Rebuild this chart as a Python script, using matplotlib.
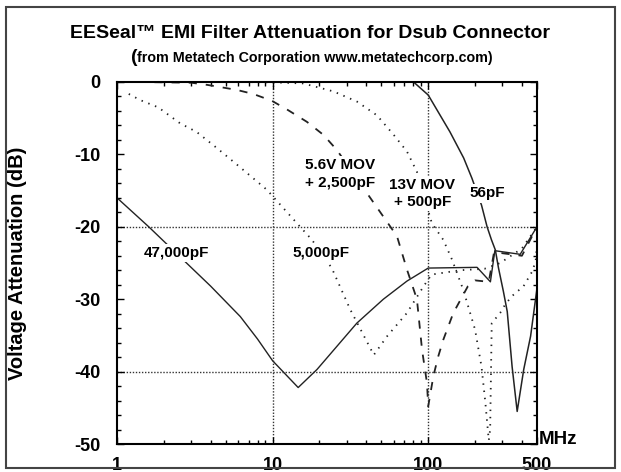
import numpy as np
import matplotlib.pyplot as plt
from matplotlib.patches import Rectangle
from matplotlib.ticker import FixedLocator, NullFormatter

plt.rcParams['font.family'] = ['Liberation Sans', 'DejaVu Sans']
plt.rcParams['font.weight'] = 'bold'

# 47,000pF (solid)
f_47000 = [1, 1.6, 2, 4, 6.2, 8, 10, 14.6, 19.3, 34.8, 51.5, 73, 100, 206, 251, 268, 390, 500]
a_47000 = [-16, -20, -22, -28.2, -32.4, -35.5, -38.5, -42.2, -39.7, -33.3, -30, -27.5, -25.7,
           -25.6, -27.6, -23.3, -23.8, -20]

# 5,000pF (dotted)
f_5000 = [1.19, 1.41, 1.84, 2.54, 3.25, 4.37, 5.74, 7.9, 9.2, 14.6, 17.9, 24, 31.5, 44.7,
          54.5, 73, 93.5, 105, 160, 230, 290, 400, 500]
a_5000 = [-1.65, -2.5, -3.5, -5.7, -6.9, -9.1, -11.2, -13.7, -14.9, -19.7, -21.8, -25.7, -31.4,
          -37.7, -35.1, -31.9, -28.2, -26.6, -26.0, -25.8, -25.0, -23.0, -20]

# 5.6V MOV + 2,500pF (dashed)
f_mov56 = [1.35, 3.0, 3.8, 4.6, 5.9, 7.5, 9.9, 12.6, 16.6, 21.2, 25.9, 51.5, 63, 73, 84.6,
           91.3, 98.2, 100, 108, 116, 125, 145, 180, 200, 245, 265, 400, 500]
a_mov56 = [0, -0.1, -0.4, -0.7, -1.1, -1.65, -2.6, -3.9, -5.5, -7.3, -9.4, -18.6, -21.3, -25.9,
           -30, -37, -41.6, -44.8, -40.6, -37.9, -35.6, -31.9, -28.2, -27.4, -27.6, -23.5, -24, -20]

# 13V MOV + 500pF (dotted)
f_mov13 = [5.9, 10, 15.7, 24.6, 34.8, 46.8, 60, 73, 84.6, 105.5, 125, 142, 168, 200, 220, 233,
           245, 250, 256, 290, 311, 344, 410, 465, 490, 500]
a_mov13 = [0, -0.05, -0.2, -1.3, -2.7, -4.6, -7.3, -9.6, -12.4, -19.5, -21.8, -24.5, -28.7,
           -34.2, -39.3, -44.3, -49.5, -48, -33.3, -31.9, -30.8, -29.6, -28.2, -26.2, -24.8, -22.5]

# 56pF (solid)
f_56 = [80.5, 100, 138, 169, 191, 220, 239, 255, 270, 283, 304, 322, 346, 373, 411, 455, 500]
a_56 = [0, -1.8, -6.9, -10.5, -13.3, -17, -20, -21.8, -23.2, -25.7, -28.9, -31.7, -39.3,
        -45.5, -39.7, -35.1, -28.5]

x_ticks = [1, 10, 100, 500]
x_labels = ['1', '10', '100', '500']
y_ticks = [0, -10, -20, -30, -40, -50]
y_labels = ['0', '-10', '-20', '-30', '-40', '-50']

fig = plt.figure(figsize=(6.21, 4.72), dpi=100)
ax = fig.add_axes([0.1884, 0.0593, 0.6763, 0.767])

ax.plot(f_47000, a_47000, color='#222222', lw=1.0)
ax.plot(f_5000, a_5000, color='#222222', lw=1.3, ls=(0, (0.8, 3.2)))
ax.plot(f_mov56, a_mov56, color='#222222', lw=1.3, ls=(0, (4.5, 5)))
ax.plot(f_mov13, a_mov13, color='#222222', lw=1.3, ls=(0, (0.8, 3.2)))
ax.plot(f_56, a_56, color='#222222', lw=1.1)

for gx in [10, 100]:
    ax.axvline(gx, color='#333333', lw=1.0, ls=(0, (1, 1.2)), zorder=1)
for gy in [-20, -40]:
    ax.axhline(gy, color='#333333', lw=1.0, ls=(0, (1, 1.2)), zorder=1)

ax.set_xscale('log')
ax.set_xlim(1, 500)
ax.set_ylim(-50, 0)
ax.xaxis.set_major_locator(FixedLocator(x_ticks))
ax.set_xticklabels(x_labels)
minor_x = [m * d for d in [1, 10, 100] for m in range(2, 10) if m * d < 500]
ax.xaxis.set_minor_locator(FixedLocator(minor_x))
ax.xaxis.set_minor_formatter(NullFormatter())
ax.set_yticks(y_ticks)
ax.set_yticklabels(y_labels)
ax.yaxis.set_minor_locator(FixedLocator(list(range(-48, 0, 2))))
ax.tick_params(which='both', direction='in', top=True, right=True, width=1.0)
ax.tick_params(which='major', length=5)
ax.tick_params(which='minor', length=3)
ax.tick_params(axis='x', which='major', pad=9, labelsize=13)
ax.tick_params(axis='y', which='major', pad=12, labelsize=13)
for s in ax.spines.values():
    s.set_linewidth(1.5)

box = dict(facecolor='white', edgecolor='none', pad=1.5)
lab = dict(fontsize=11, fontweight='bold', zorder=5, bbox=box)
ax.text(16.2, -12.7, '5.6V MOV\n+ 2,500pF', ha='left', va='center', linespacing=1.3, **lab)
ax.text(91.5, -15.4, '13V MOV\n+ 500pF', ha='center', va='center', linespacing=1.2, **lab)
ax.text(239, -15.4, '56pF', ha='center', va='center', **lab)
ax.text(2.4, -23.6, '47,000pF', ha='center', va='center', **lab)
ax.text(20.5, -23.6, '5,000pF', ha='center', va='center', **lab)

fig.text(0.5, 1 - 33 / 472, 'EESeal\u2122 EMI Filter Attenuation for Dsub Connector',
         ha='center', va='center', fontsize=14, fontweight='bold')
fig.text(137 / 621, 1 - 57 / 472, '(', ha='right', va='center', fontsize=14, fontweight='bold')
fig.text(137 / 621, 1 - 58 / 472, 'from Metatech Corporation www.metatechcorp.com)',
         ha='left', va='center', fontsize=10.3, fontweight='bold')
fig.text(18 / 621, 1 - 263 / 472, 'Voltage Attenuation (dB)', rotation=90,
         ha='center', va='center', fontsize=14.5, fontweight='bold')
fig.text(558 / 621, 1 - 440 / 472, 'MHz', ha='center', va='center',
         fontsize=13.5, fontweight='bold')

fig.patches.append(Rectangle((6 / 621, 4 / 472), 609 / 621, 461 / 472, transform=fig.transFigure,
                             fill=False, edgecolor='#444444', lw=1.5))

fig.savefig('out.png', dpi=100)
